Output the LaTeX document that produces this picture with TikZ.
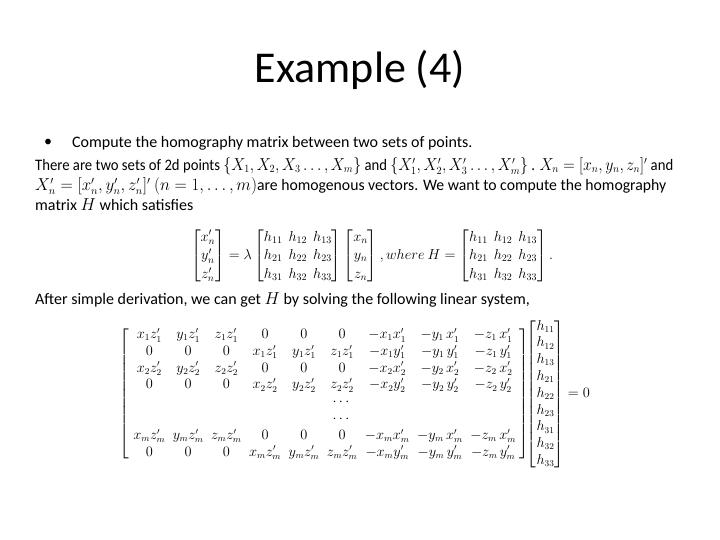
\documentclass[tikz,border=0pt]{standalone}
\usepackage{amsmath}
\usepackage{graphicx}
\usepackage{fontspec}
\setmainfont{Carlito}
\begin{document}
\begin{tikzpicture}[x=1pt,y=-1pt]
\useasboundingbox[fill=white] (0,0) rectangle (720,540);
\tikzset{body/.style={anchor=west,inner sep=0pt,font=\fontsize{16}{20}\selectfont}}
\node (title) at (360,70) {\fontsize{44}{48}\selectfont Example (4)};
\node[body] (bul) at (44,143) {•};
\node[body] (l1) at (72,143) {Compute the homography matrix between two sets of points.};
\node[body] (p1) at (35,166) {\resizebox{638pt}{\height}{There are two sets of 2d points $\{X_1,X_2,X_3\ldots,X_m\}$ and $\{X'_1,X'_2,X'_3\ldots,X'_m\}$ . $X_n=[x_n,y_n,z_n]'$ and}};
\node[body] (p2) at (35,186) {\resizebox{631pt}{\height}{$X'_n=[x'_n,y'_n,z'_n]'$ $(n=1,\ldots,m)$are homogenous vectors. We want to compute the homography}};
\node[body] (p3) at (35,205) {matrix $H$ which satisfies};
\node (eq1) at (372,256) {\fontsize{14}{17}\selectfont \renewcommand{\arraystretch}{1.1}\setlength{\arraycolsep}{3pt}$\begin{bmatrix}x'_n\\ y'_n\\ z'_n\end{bmatrix}=\lambda\begin{bmatrix}h_{11}&h_{12}&h_{13}\\ h_{21}&h_{22}&h_{23}\\ h_{31}&h_{32}&h_{33}\end{bmatrix}\begin{bmatrix}x_n\\ y_n\\ z_n\end{bmatrix}, where\ H=\begin{bmatrix}h_{11}&h_{12}&h_{13}\\ h_{21}&h_{22}&h_{23}\\ h_{31}&h_{32}&h_{33}\end{bmatrix}.$};
\node[body] (l5) at (35,300) {After simple derivation, we can get $H$ by solving the following linear system,};
\node (eq2) at (355,394) {\fontsize{13.5}{15}\selectfont \renewcommand{\arraystretch}{1.12}\setlength{\arraycolsep}{3.8pt}$\left[\begin{array}{cccccccccc}
x_1z'_1&y_1z'_1&z_1z'_1&0&0&0&-x_1x'_1&-y_1\,x'_1&-z_1\,x'_1\\
0&0&0&x_1z'_1&y_1z'_1&z_1z'_1&-x_1y'_1&-y_1\,y'_1&-z_1\,y'_1\\
x_2z'_2&y_2z'_2&z_2z'_2&0&0&0&-x_2x'_2&-y_2\,x'_2&-z_2\,x'_2\\
0&0&0&x_2z'_2&y_2z'_2&z_2z'_2&-x_2y'_2&-y_2\,y'_2&-z_2\,y'_2\\
&&&&&\cdots&&&\\
&&&&&\cdots&&&\\
x_mz'_m&y_mz'_m&z_mz'_m&0&0&0&-x_mx'_m&-y_m\,x'_m&-z_m\,x'_m\\
0&0&0&x_mz'_m&y_mz'_m&z_mz'_m&-x_my'_m&-y_m\,y'_m&-z_m\,y'_m
\end{array}\right]\!\!\begin{bmatrix}h_{11}\\h_{12}\\h_{13}\\h_{21}\\h_{22}\\h_{23}\\h_{31}\\h_{32}\\h_{33}\end{bmatrix}=0$};
\end{tikzpicture}
\end{document}
